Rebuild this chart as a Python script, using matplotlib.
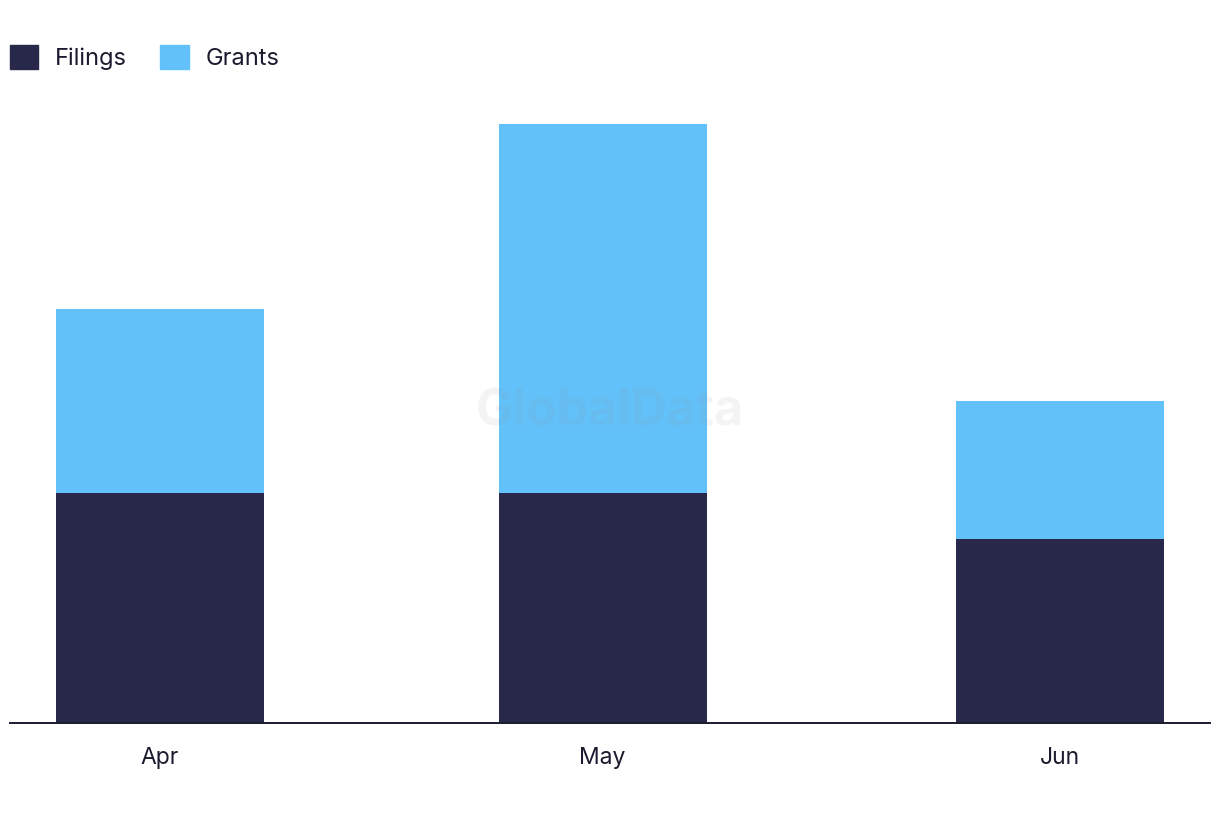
import datetime as dt
import matplotlib
matplotlib.use("Agg")
from matplotlib import pyplot as plt
from matplotlib.patches import Patch
import matplotlib.dates as mdates

# data
months = [dt.date(2021, 4, 1), dt.date(2021, 5, 1), dt.date(2021, 6, 1)]
month_labels = ["Apr", "May", "Jun"]
filings = [5, 5, 4]
grants = [4, 8, 3]

navy = "#28284b"
blue = "#62c1f9"
text_col = "#1b1b2f"

plt.rcParams["font.family"] = ["Inter", "DejaVu Sans"]

fig = plt.figure(figsize=(12.2, 8.22), dpi=100)
ax = fig.add_axes([10 / 1220, 1 - 723 / 822, 1200 / 1220, 644.7 / 822])

x = mdates.date2num(months)
w = 14.1
ax.bar(x, filings, width=w, color=navy, zorder=2)
ax.bar(x, grants, width=w, bottom=filings, color=blue, zorder=2)

ax.set_xlim(x[0] - 10.17, x[-1] + 10.17)
ax.set_ylim(0, 14)
ax.set_xticks(x)
ax.set_xticklabels(month_labels, fontsize=16.5, color=text_col)
ax.tick_params(axis="x", length=0, pad=17)
ax.set_yticks([])
for s in ["top", "right", "left"]:
    ax.spines[s].set_visible(False)
ax.spines["bottom"].set_color(text_col)
ax.spines["bottom"].set_linewidth(1.4)
ax.spines["bottom"].set_zorder(3)

# watermark
fig.text(610 / 1220, 1 - 412 / 822, "GlobalData", fontsize=36, fontweight="bold",
         color="#999999", alpha=0.1, ha="center", va="center", zorder=5)

handles = [Patch(color=navy, label="Filings"), Patch(color=blue, label="Grants")]
fig.legend(handles=handles, loc="upper left", bbox_to_anchor=(10 / 1220, 1 - 45 / 822),
           frameon=False, fontsize=17, ncol=2, borderpad=0, borderaxespad=0,
           handlelength=1.2, handleheight=1.2, handletextpad=0.72, columnspacing=1.4,
           labelcolor=text_col)

fig.savefig("out.png", dpi=100)
